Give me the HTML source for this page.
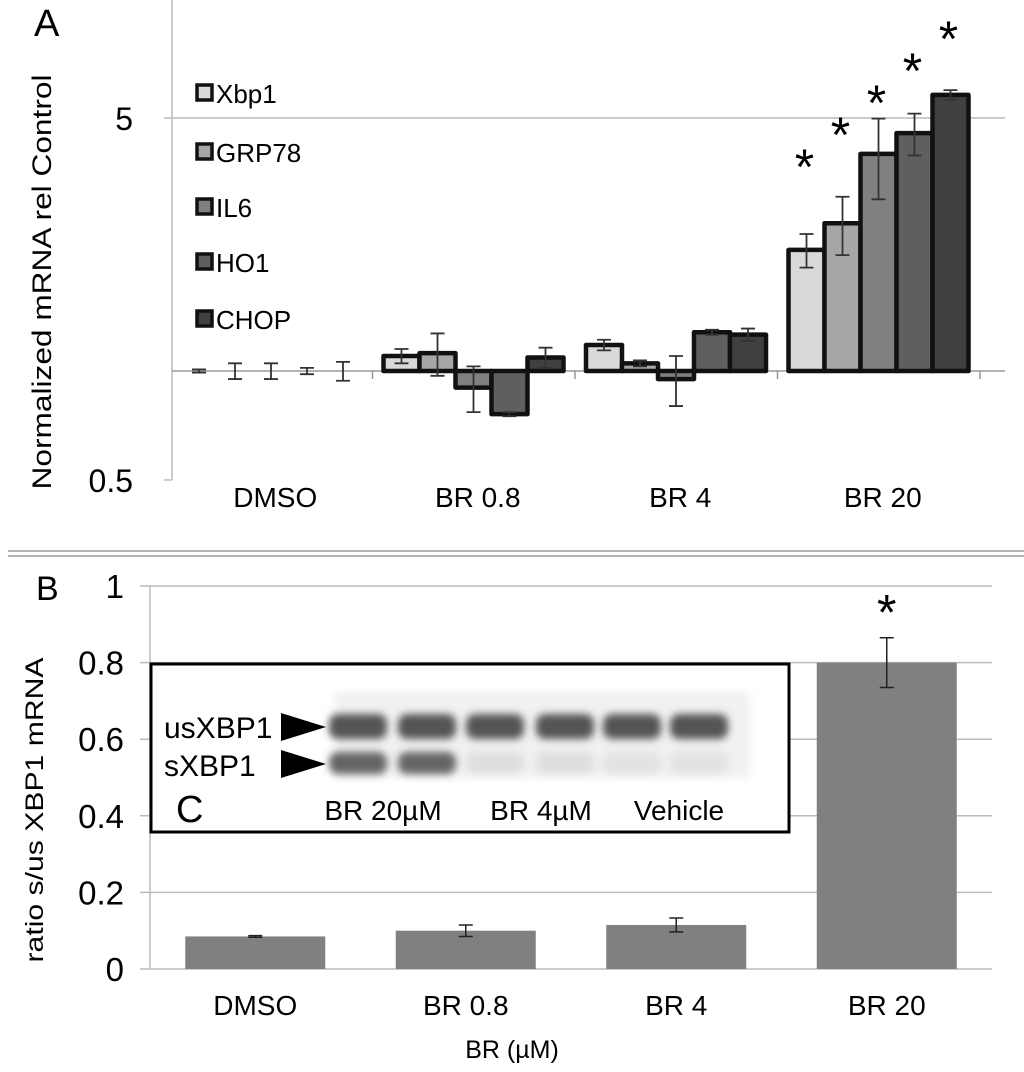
<!DOCTYPE html>
<html><head><meta charset="utf-8"><style>
html,body{margin:0;padding:0;background:#fff;}
svg{display:block;font-family:"Liberation Sans",sans-serif;}
</style></head><body>
<svg id="fig" width="1024" height="1072" viewBox="0 0 1024 1072">
<defs>
<filter id="blur" x="-20%" y="-50%" width="140%" height="200%"><feGaussianBlur stdDeviation="4"/></filter>
</defs>
</svg>
<script>
// ---------- Panel A data ----------
const groupsA = ["DMSO","BR 0.8","BR 4","BR 20"];
const seriesA = ["Xbp1","GRP78","IL6","HO1","CHOP"];
const xbp1 = [1.0, 1.10, 1.18, 2.16];
const grp78 = [1.0, 1.12, 1.05, 2.56];
const il6 = [1.0, 0.90, 0.95, 3.98];
const ho1 = [1.0, 0.76, 1.28, 4.54];
const chop = [1.0, 1.09, 1.26, 5.79];
const xbp1Err = [0.01, 0.05, 0.04, 0.23];
const grp78Err = [0.05, 0.15, 0.02, 0.47];
const il6Err = [0.05, 0.13, 0.15, 1.0];
const ho1Err = [0.02, 0.01, 0.02, 0.6];
const chopErr = [0.06, 0.07, 0.05, 0.18];
const ticksA = [0.5, 5];
const tickLabelsA = ["0.5","5"];
// ---------- Panel B data ----------
const groupsB = ["DMSO","BR 0.8","BR 4","BR 20"];
const ratioB = [0.085, 0.10, 0.115, 0.80];
const ratioErrB = [0.002, 0.015, 0.018, 0.065];
const ticksB = [0, 0.2, 0.4, 0.6, 0.8, 1];
const tickLabelsB = ["0","0.2","0.4","0.6","0.8","1"];
const starsB = [false,false,false,true];

const svg = document.getElementById('fig');
const NS = "http://www.w3.org/2000/svg";
function mk(tag, attrs, parent){const e=document.createElementNS(NS,tag);for(const k in attrs)e.setAttribute(k,attrs[k]);(parent||svg).appendChild(e);return e;}
function txt(s, attrs, parent){const e=mk('text',attrs,parent);e.textContent=s;return e;}

// ---------- Panel A ----------
const A = {left:170,right:1005,base:371,decade:362,gw:202.5};
function yA(v){return A.base - Math.log10(v)*A.decade;}
function gxA(i){return A.left + i*A.gw;}
const gA = mk('g',{});


let t = txt('A',{x:34,y:36,'font-size':38},gA);

let l = mk('line',{x1:172,y1:0,x2:172,y2:yA(0.5),stroke:'#bbb','stroke-width':1.5},gA);

ticksA.forEach((v,i)=>{
  if(v!==0.5){const g=mk('line',{x1:164,y1:yA(v),x2:A.right,y2:yA(v),stroke:'#bbb','stroke-width':1.5},gA);
  }
  else{const g=mk('line',{x1:164,y1:yA(v),x2:172,y2:yA(v),stroke:'#bbb','stroke-width':1.5},gA);
  }
  const tl=txt(tickLabelsA[i],{x:133,y:yA(v)+12,'font-size':32,'text-anchor':'end'},gA);
  
});
let yt = txt('Normalized mRNA rel Control',{x:0,y:0,'font-size':27,'text-anchor':'middle',textLength:415,lengthAdjust:'spacingAndGlyphs',transform:'translate(51,282) rotate(-90)'},gA);

let bl = mk('line',{x1:172,y1:A.base,x2:A.right,y2:A.base,stroke:'#999','stroke-width':1.5},gA);

for(let i=1;i<=4;i++){const tk=mk('line',{x1:gxA(i),y1:A.base,x2:gxA(i),y2:A.base+8,stroke:'#999','stroke-width':1.5},gA);
}
const colorsA=['#d9d9d9','#a6a6a6','#808080','#5f5f5f','#404040'];
const valsA=[xbp1,grp78,il6,ho1,chop];
const errsA=[xbp1Err,grp78Err,il6Err,ho1Err,chopErr];
const bw=36;
groupsA.forEach((g,gi)=>{
  const x0 = gxA(gi)+11;
  seriesA.forEach((s,si)=>{
    const v=valsA[si][gi], e=errsA[si][gi];
    const x=x0+si*bw, y=yA(v);
    const top=Math.min(y,A.base), h=Math.abs(A.base-y);
    if(h>0.5){
      const r=mk('rect',{x:x,y:top,width:bw,height:h,fill:colorsA[si],stroke:'#111','stroke-width':4.5,'stroke-linejoin':'round'},gA);
      
      
    }
    const cx=x+bw/2, y1=yA(v+e), y2=yA(Math.max(v-e,0.01));
    const eb=mk('path',{d:`M${cx-7},${y1}H${cx+7}M${cx},${y1}V${y2}M${cx-7},${y2}H${cx+7}`,stroke:'#333','stroke-width':1.8,fill:'none'},gA);
    
    
    if(gi===3){const st=txt('*',{x:cx-2,y:184-32*si,'font-size':50,'text-anchor':'middle'},gA);
      }
  });
  const xl=txt(g,{x:gxA(gi)+A.gw/2+4,y:507,'font-size':28,'text-anchor':'middle'},gA);
  
});
const legY=[93,152,207,262,319];
seriesA.forEach((s,i)=>{
  const sq=mk('rect',{x:197,y:legY[i]-8,width:15,height:15,fill:colorsA[i],stroke:'#111','stroke-width':3.5},gA);
  
  const lt=txt(s,{x:216,y:legY[i]+10,'font-size':26},gA);
  
});
const sep=mk('path',{d:'M8,551H1024M8,556H1024',stroke:'#aaa','stroke-width':1.8,fill:'none'});


// ---------- Panel B ----------
const B={left:150,right:992,zero:969,scale:383,gw:210.5};
function yB(v){return B.zero - v*B.scale;}
const gB=mk('g',{});

t=txt('B',{x:36,y:600,'font-size':34},gB);

ticksB.forEach((v,i)=>{
  const g=mk('line',{x1:B.left-10,y1:yB(v),x2:B.right,y2:yB(v),stroke:'#bbb','stroke-width':1.5},gB);
  
  const tl=txt(tickLabelsB[i],{x:124,y:yB(v)+12,'font-size':33,'text-anchor':'end'},gB);
  
});
l=mk('line',{x1:B.left,y1:yB(1),x2:B.left,y2:B.zero,stroke:'#bbb','stroke-width':1.5},gB);

yt=txt('ratio s/us XBP1 mRNA',{x:0,y:0,'font-size':25,'text-anchor':'middle',textLength:305,lengthAdjust:'spacingAndGlyphs',transform:'translate(43,810) rotate(-90)'},gB);

groupsB.forEach((g,i)=>{
  const cx=B.left+B.gw*(i+0.5), w=140, v=ratioB[i], e=ratioErrB[i];
  const r=mk('rect',{x:cx-w/2,y:yB(v),width:w,height:B.zero-yB(v),fill:'#808080'},gB);
  
  const eb=mk('path',{d:`M${cx-7},${yB(v+e)}H${cx+7}M${cx},${yB(v+e)}V${yB(v-e)}M${cx-7},${yB(v-e)}H${cx+7}`,stroke:'#222','stroke-width':1.5,fill:'none'},gB);
  
  if(starsB[i]){const st=txt('*',{x:cx,y:yB(v+e)-8,'font-size':50,'text-anchor':'middle'},gB);
    }
  const xl=txt(g,{x:cx,y:1015,'font-size':28,'text-anchor':'middle'},gB);
  
});
let xt=txt('BR (µM)',{x:512,y:1058,'font-size':25,'text-anchor':'middle'},gB);


// ---------- Inset C (gel) ----------
const gC=mk('g',{});

const box=mk('rect',{x:151,y:664,width:638,height:168,fill:'#fff',stroke:'#000','stroke-width':3},gC);

const gelBg=mk('rect',{x:335,y:692,width:415,height:86,fill:'#f1f1f1',filter:'url(#blur)'},gC);

const lanes=[358,427,495,565,632,699];
const sInt=[0.9,0.9,0.12,0.12,0.1,0.1];
lanes.forEach((x,i)=>{
  const u=mk('rect',{x:x-29,y:714,width:58,height:25,rx:9,fill:'#555',filter:'url(#blur)'},gC);
  
  const s=mk('rect',{x:x-29,y:752,width:58,height:22,rx:9,fill:'#555','fill-opacity':sInt[i],filter:'url(#blur)'},gC);
  
});
const gelFont='"Liberation Sans Narrow","Liberation Sans",sans-serif';
let c=txt('usXBP1',{x:164,y:738,'font-size':30,'font-family':gelFont},gC);

c=txt('sXBP1',{x:164,y:776,'font-size':30,'font-family':gelFont},gC);

c=mk('polygon',{points:'281,713 326,727 281,741',fill:'#000'},gC);

c=mk('polygon',{points:'281,750 326,764 281,778',fill:'#000'},gC);

c=txt('C',{x:176,y:822,'font-size':38,'font-family':gelFont},gC);

const laneLabels=[["BR 20µM",383],["BR 4µM",541],["Vehicle",679]];
laneLabels.forEach(([s,x])=>{
  const e=txt(s,{x:x,y:820,'font-size':28,'text-anchor':'middle','font-family':gelFont},gC);
  
});
</script>
</body></html>
